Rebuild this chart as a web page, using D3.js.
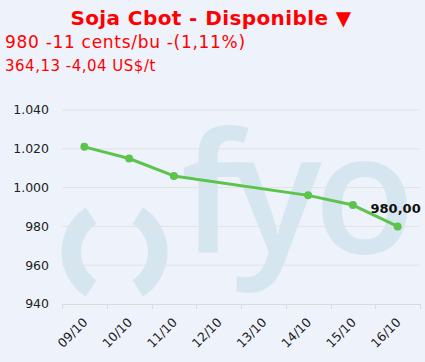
<!DOCTYPE html>
<html><head><meta charset="utf-8">
<script src="https://cdn.jsdelivr.net/npm/d3@7"></script>
<style>
html,body{margin:0;padding:0;background:#EEF2FA;}
svg{display:block;}
</style></head>
<body><div id="chart"></div>
<script>
const categories = ["09/10","10/10","11/10","12/10","13/10","14/10","15/10","16/10"];
const values = [1021, 1015, 1006, null, null, 996, 991, 980];
const yTicks = [940, 960, 980, 1000, 1020, 1040];
const title = "Soja Cbot - Disponible \u25BC";
const subtitle1 = "980 -11 cents/bu -(1,11%)";
const subtitle2 = "364,13 -4,04 US$/t";
const lastLabel = "980,00";

const W = 425, H = 362;
const FONT = "'DejaVu Sans', Verdana, sans-serif";
const svg = d3.select("#chart").append("svg").attr("width", W).attr("height", H);
svg.append("rect").attr("width", W).attr("height", H).attr("fill", "#EEF2FA");

const x = d3.scaleBand().domain(categories).range([62, 420]).padding(0);
const y = d3.scaleLinear().domain([940, 1040]).range([304, 110]);

// watermark
const wm = svg.append("g").attr("fill", "#D6E6F0");
const arc = d3.arc().innerRadius(33.5).outerRadius(53);
wm.append("path").attr("transform", "translate(114.5,252)")
  .attr("d", arc({startAngle: -Math.PI/2 - 1.0, endAngle: -Math.PI/2 + 1.0}));
wm.append("path").attr("transform", "translate(114.5,252)")
  .attr("d", arc({startAngle: Math.PI/2 - 1.0, endAngle: Math.PI/2 + 1.0}));
wm.append("text").attr("x", 181).attr("y", 253)
  .attr("font-family", "'Open Sans', sans-serif").attr("font-weight", 600)
  .attr("letter-spacing", -8)
  .attr("font-size", 166).text("fyo");

// gridlines
svg.append("g").selectAll("line").data(yTicks.filter(d => d !== 940)).join("line")
  .attr("x1", 62).attr("x2", 420)
  .attr("y1", d => y(d)).attr("y2", d => y(d))
  .attr("stroke", "#E2E2E2").attr("stroke-width", 1);

// y axis labels
svg.append("g").selectAll("text").data(yTicks).join("text")
  .attr("x", 49).attr("y", d => y(d)).attr("dy", "0.35em")
  .attr("text-anchor", "end")
  .attr("font-family", FONT)
  .attr("font-size", 12.5).attr("fill", "#222")
  .text(d => d3.format(",")(d).replace(",", "."));

// x axis
const xAxis = d3.axisBottom(x).tickSize(5).tickFormat("");
const gx = svg.append("g").attr("transform", `translate(0,${y(940)})`).call(xAxis);
gx.select(".domain").attr("stroke", "#DADADA").attr("d", `M62.5,0.5H420`);
gx.selectAll(".tick").remove();
const bounds = categories.map(c => x(c)).concat([x.range()[1]]);
gx.selectAll("line.bt").data(bounds).join("line").attr("class", "bt")
  .attr("x1", d => Math.round(d) + 0.5).attr("x2", d => Math.round(d) + 0.5)
  .attr("y1", 0).attr("y2", 5).attr("stroke", "#DADADA");

svg.append("g").selectAll("text").data(categories).join("text")
  .attr("transform", d => `translate(${x(d) + x.bandwidth()/2 + 4},${y(940) + 19}) rotate(-45)`)
  .attr("text-anchor", "end")
  .attr("font-family", FONT)
  .attr("font-size", 12.5).attr("fill", "#222")
  .text(d => d);

// line
const pts = categories.map((c, i) => ({c, v: values[i]})).filter(d => d.v != null);
const line = d3.line().x(d => x(d.c) + x.bandwidth()/2).y(d => y(d.v));
svg.append("path").datum(pts).attr("d", line)
  .attr("fill", "none").attr("stroke", "#5CC34C").attr("stroke-width", 3)
  .attr("stroke-linejoin", "round").attr("stroke-linecap", "round");
svg.append("g").selectAll("circle").data(pts).join("circle")
  .attr("cx", d => x(d.c) + x.bandwidth()/2).attr("cy", d => y(d.v))
  .attr("r", 4).attr("fill", "#5CC34C");

const last = pts[pts.length - 1];
svg.append("text")
  .attr("x", x(last.c) + x.bandwidth()/2 - 2).attr("y", y(last.v) - 13)
  .attr("text-anchor", "middle")
  .attr("font-family", FONT)
  .attr("font-weight", "bold").attr("font-size", 13).attr("fill", "#111")
  .text(lastLabel);

// titles
svg.append("text").attr("x", 211).attr("y", 25).attr("text-anchor", "middle")
  .attr("font-family", FONT).attr("letter-spacing", 0.4)
  .attr("font-weight", "bold").attr("font-size", 20).attr("fill", "#FF0000")
  .text(title);
svg.append("text").attr("x", 5).attr("y", 48)
  .attr("font-family", FONT).attr("letter-spacing", 0.7)
  .attr("font-size", 17).attr("fill", "#FF0000")
  .text(subtitle1);
svg.append("text").attr("x", 5).attr("y", 71)
  .attr("font-family", FONT).attr("letter-spacing", 0.5)
  .attr("font-size", 15).attr("fill", "#FF0000")
  .text(subtitle2);
</script></body></html>
